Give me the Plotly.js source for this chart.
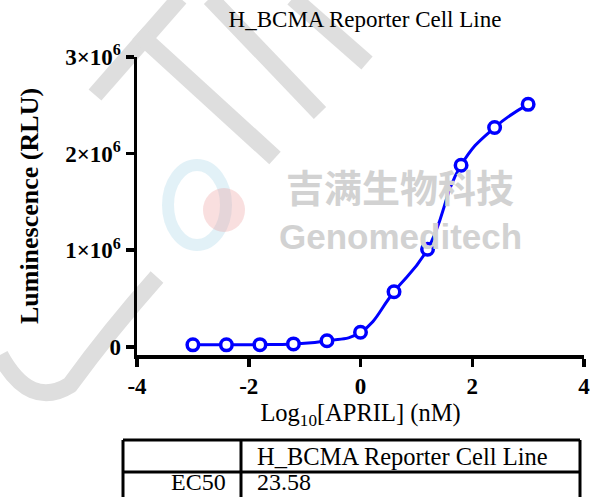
<!DOCTYPE html>
<html>
<head>
<meta charset="utf-8">
<script src="https://cdn.plot.ly/plotly-3.0.1.min.js"></script>
<style>html,body{margin:0;padding:0;background:#fff;}#chart{width:592px;height:497px;}</style>
</head>
<body>
<div id="chart"></div>
<script>
// ---- data ----
var logConc = [-3, -2.4, -1.8, -1.2, -0.6, 0, 0.6, 1.2, 1.8, 2.4, 3];
var luminescence = [20000, 20000, 22000, 30000, 62000, 150000, 570000, 1010000, 1880000, 2270000, 2510000];
var xTickVals = [-4, -2, 0, 2, 4];
var xTickText = ["-4", "-2", "0", "2", "4"];
var yTickVals = [0, 1000000, 2000000, 3000000];
var yTickText = ["0", "1×10<sup>6</sup>", "2×10<sup>6</sup>", "3×10<sup>6</sup>"];
var tableHeader = ["", "H_BCMA Reporter Cell Line"];
var tableRowLabels = ["EC50"];
var tableEC50 = ["23.58"];
var chartTitle = "H_BCMA Reporter Cell Line";
var xTitle = "Log<sub>10</sub>[APRIL] (nM)";
var yTitle = "Luminescence (RLU)";
var watermarkCN = "吉满生物科技";
var watermarkEN = "Genomeditech";

var W = 592, H = 497;
var serif = "Liberation Serif, Times New Roman, serif";
var blue = "#0000FF";
function px(x) { return x / W; }
function py(y) { return 1 - y / H; }

var traces = [
  {
    x: logConc, y: luminescence, type: "scatter", mode: "lines",
    line: {color: blue, width: 3, shape: "spline", smoothing: 1.3},
    hoverinfo: "skip", showlegend: false
  },
  {
    x: logConc, y: luminescence, type: "scatter", mode: "markers",
    marker: {symbol: "circle", size: 11.5, color: "#ffffff", line: {color: blue, width: 3.5}},
    showlegend: false
  }
];

var shapes = [];
function seg(x0, y0, x1, y1, color, width, layer) {
  shapes.push({type: "line", xref: "paper", yref: "paper", layer: layer || "above",
    x0: px(x0), y0: py(y0), x1: px(x1), y1: py(y1), line: {color: color, width: width}});
}
// faint watermark bands and logo (below data)
var bandColor = "#dedede";
seg(180, -2, 95, 95, bandColor, 17, "below");
seg(138, 33, 275, 158, bandColor, 17, "below");
seg(210, -2, 320, 113, bandColor, 17, "below");
seg(293, -2, 367, 63, bandColor, 17, "below");
shapes.push({type: "path", xref: "paper", yref: "paper", layer: "below",
  path: "M" + px(0) + "," + py(355) + " Q" + px(30) + "," + py(410) + " " + px(70) + "," + py(385) +
        " Q" + px(110) + "," + py(330) + " " + px(157) + "," + py(277),
  line: {color: bandColor, width: 17}});
shapes.push({type: "circle", xref: "paper", yref: "paper", layer: "below",
  x0: px(168), x1: px(226), y0: py(165), y1: py(245),
  line: {color: "rgba(140,200,225,0.25)", width: 12}});
shapes.push({type: "circle", xref: "paper", yref: "paper", layer: "below",
  x0: px(203), x1: px(245), y0: py(188), y1: py(232),
  fillcolor: "rgba(235,150,150,0.3)", line: {width: 0}});

// ---- table (lines as shapes, cells as text) ----
var tbl = {left: 123, div: 241, right: 580, top: 440, row: 472, bottom: 505};
seg(tbl.left, tbl.top, tbl.right, tbl.top, "#000", 3);
seg(tbl.left, tbl.row, tbl.right, tbl.row, "#000", 3);
seg(tbl.left, tbl.top, tbl.left, tbl.bottom, "#000", 3);
seg(tbl.div, tbl.top, tbl.div, tbl.bottom, "#000", 3);
seg(tbl.right, tbl.top, tbl.right, tbl.bottom, "#000", 3);

var tfont = {family: serif, size: 24.5, color: "#000"};
var rfont = {family: serif, size: 24, color: "#000"};
var annotations = [
  {text: watermarkCN, xref: "paper", yref: "paper", x: px(400), y: py(185),
   xanchor: "center", yanchor: "middle", showarrow: false,
   font: {family: "Noto Sans CJK SC", size: 38, color: "#d2d2d2", weight: "bold"}},
  {text: watermarkEN, xref: "paper", yref: "paper", x: px(400), y: py(236),
   xanchor: "center", yanchor: "middle", showarrow: false,
   font: {family: "Liberation Sans", size: 35, color: "#d2d2d2", weight: "bold"}},
  {text: tableHeader[1], xref: "paper", yref: "paper", x: px(255), y: py(456),
   xanchor: "left", yanchor: "middle", showarrow: false, font: tfont}
];
tableRowLabels.forEach(function (lab, i) {
  var yc = 482 + i * 30;
  annotations.push({text: lab, xref: "paper", yref: "paper", x: px(228), y: py(yc),
    xanchor: "right", yanchor: "middle", showarrow: false, font: rfont});
  annotations.push({text: tableEC50[i], xref: "paper", yref: "paper", x: px(255), y: py(yc),
    xanchor: "left", yanchor: "middle", showarrow: false, font: rfont});
});

var layout = {
  width: W, height: H,
  margin: {l: 0, r: 0, t: 0, b: 0},
  paper_bgcolor: "#fff", plot_bgcolor: "rgba(0,0,0,0)",
  showlegend: false,
  title: {
    text: chartTitle, x: px(365), xanchor: "center", y: py(19), yanchor: "middle",
    font: {family: serif, size: 23, color: "#000"}
  },
  xaxis: {
    domain: [px(137), px(584)], range: [-4, 4], automargin: false,
    showline: true, linecolor: "#000", linewidth: 3.5, showgrid: false, zeroline: false,
    ticks: "outside", ticklen: 8, tickwidth: 3.5, tickcolor: "#000",
    tickvals: xTickVals, ticktext: xTickText,
    tickfont: {family: serif, size: 23, color: "#000", weight: "bold"},
    title: {text: xTitle, standoff: 0, font: {family: serif, size: 24.5, color: "#000"}}
  },
  yaxis: {
    domain: [py(355), py(57)], range: [-85000, 3000000], automargin: false,
    showline: true, linecolor: "#000", linewidth: 3.5, showgrid: false, zeroline: false,
    ticks: "outside", ticklen: 8, tickwidth: 3.5, tickcolor: "#000",
    tickvals: yTickVals, ticktext: yTickText,
    tickfont: {family: serif, size: 23, color: "#000", weight: "bold"},
    title: {text: yTitle, standoff: 20, font: {family: serif, size: 26, color: "#000", weight: "bold"}}
  },
  shapes: shapes,
  annotations: annotations
};

Plotly.newPlot("chart", traces, layout, {displayModeBar: false, staticPlot: true});
</script>
</body>
</html>
